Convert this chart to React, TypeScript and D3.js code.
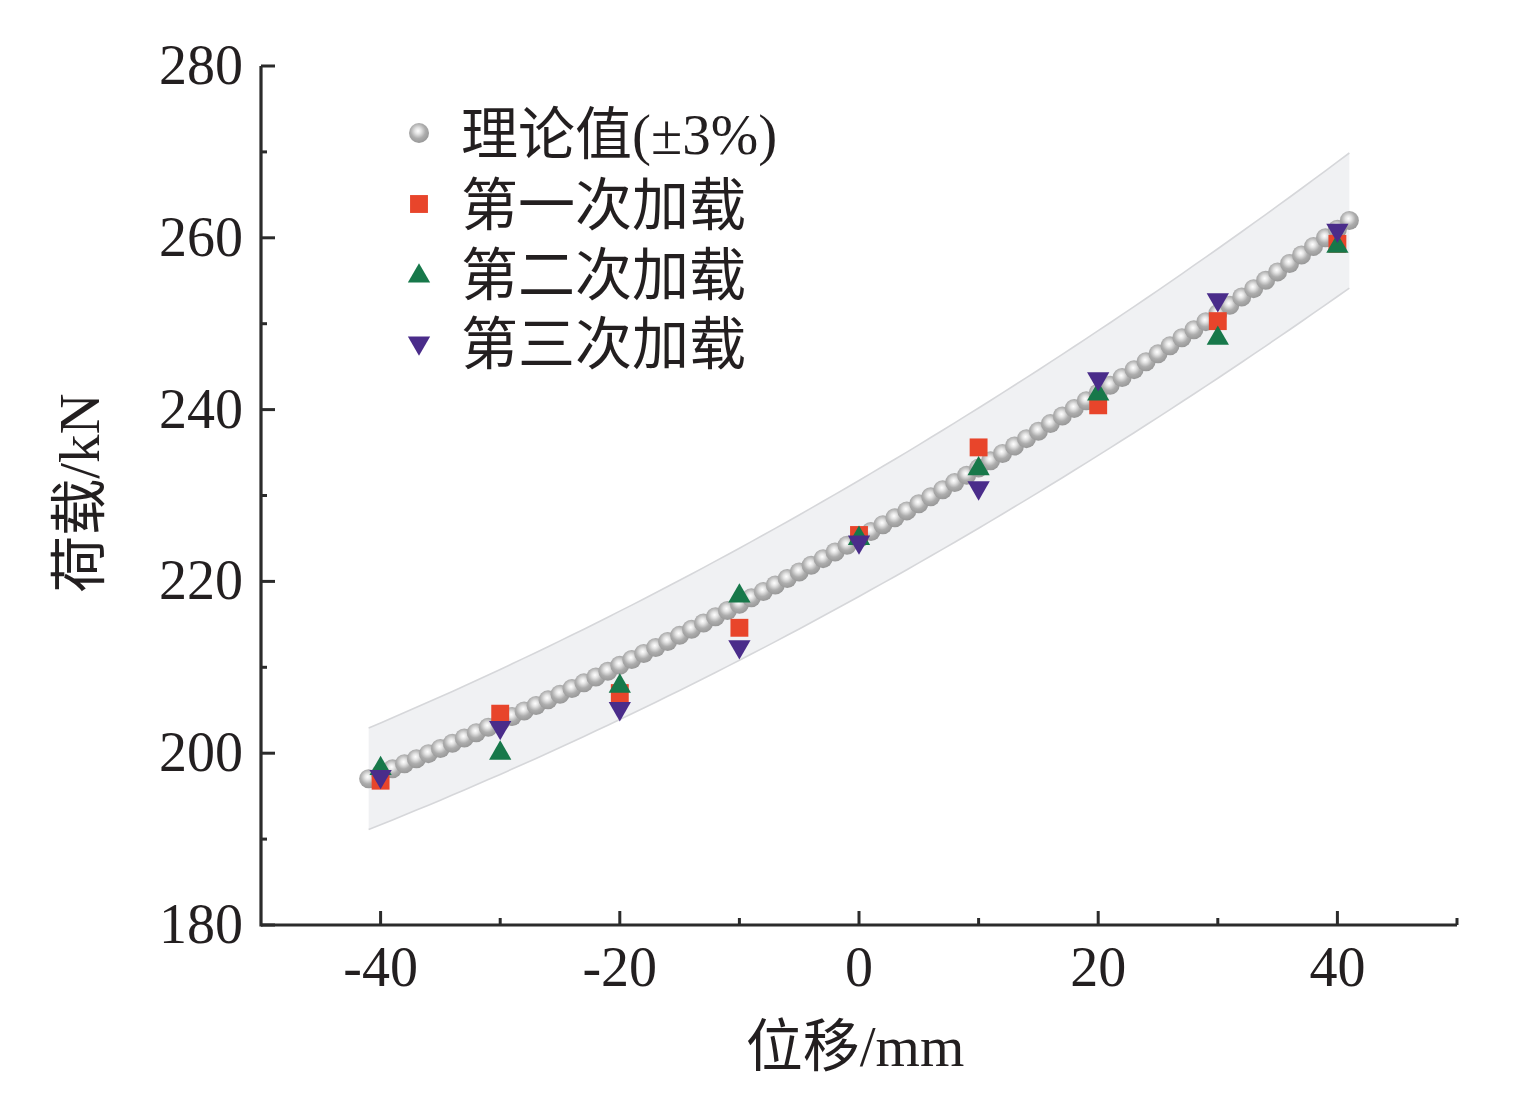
import React from "react";
import * as d3 from "d3";

// ---- data ----
const theoryX: number[] = [
  -41, -40, -39, -38, -37, -36, -35, -34, -33, -32, -31, -30, -29, -28, -27, -26, -25, -24, -23, -22, -21,
  -20, -19, -18, -17, -16, -15, -14, -13, -12, -11, -10, -9, -8, -7, -6, -5, -4, -3, -2, -1,
  0, 1, 2, 3, 4, 5, 6, 7, 8, 9, 10, 11, 12, 13, 14, 15, 16, 17, 18, 19, 20,
  21, 22, 23, 24, 25, 26, 27, 28, 29, 30, 31, 32, 33, 34, 35, 36, 37, 38, 39, 40, 41,
];
const theoryY: number[] = [
  197.03, 197.6, 198.18, 198.77, 199.36, 199.95, 200.55, 201.16, 201.77, 202.39, 203.02, 203.64, 204.28,
  204.92, 205.56, 206.21, 206.87, 207.53, 208.19, 208.87, 209.54, 210.23, 210.91, 211.61, 212.3, 213.01,
  213.72, 214.43, 215.15, 215.88, 216.61, 217.34, 218.09, 218.83, 219.58, 220.34, 221.1, 221.87, 222.65,
  223.43, 224.21, 225.0, 225.8, 226.6, 227.4, 228.21, 229.03, 229.85, 230.68, 231.51, 232.35, 233.19,
  234.04, 234.9, 235.76, 236.62, 237.49, 238.37, 239.25, 240.14, 241.03, 241.93, 242.83, 243.74, 244.65,
  245.57, 246.49, 247.42, 248.36, 249.3, 250.24, 251.19, 252.15, 253.11, 254.08, 255.05, 256.03, 257.01,
  258.0, 259.0, 260.0, 261.0, 262.01,
];
const BAND_PCT = 0.03;

const loadX: number[] = [-40, -30, -20, -10, 0, 10, 20, 30, 40];
const load1: number[] = [196.8, 204.6, 207.0, 214.6, 225.4, 235.6, 240.5, 250.3, 259.3];
const load2: number[] = [198.2, 200.0, 207.8, 218.3, 225.0, 233.1, 241.8, 248.3, 259.0];
const load3: number[] = [197.3, 203.0, 205.2, 212.4, 224.6, 230.9, 243.6, 252.8, 260.9];

const xMajor: number[] = [-40, -20, 0, 20, 40];
const xMinor: number[] = [-30, -10, 10, 30, 50];
const yMajor: number[] = [180, 200, 220, 240, 260, 280];
const yMinor: number[] = [190, 210, 230, 250, 270];

const legendLabels: string[] = ["理论值(±3%)", "第一次加载", "第二次加载", "第三次加载"];
const xTitle = "位移/mm";
const yTitle = "荷载/kN";

const RED = "#e8452b";
const GREEN = "#17784a";
const PURPLE = "#4a2c8a";
const TEXT = "#231f20";
const AXIS = "#2b2b2b";
const FONT = "'Liberation Serif', 'Times New Roman', 'Noto Sans CJK SC', serif";

export default function App() {
  const W = 1513;
  const H = 1110;
  const x = d3.scaleLinear().domain([-50, 50]).range([261, 1457]);
  const y = d3.scaleLinear().domain([180, 280]).range([925, 66]);

  const bandArea = d3
    .area<number>()
    .x((_, i) => x(theoryX[i]))
    .y0((v) => y(v * (1 - BAND_PCT)))
    .y1((v) => y(v * (1 + BAND_PCT)));
  const upperLine = d3
    .line<number>()
    .x((_, i) => x(theoryX[i]))
    .y((v) => y(v * (1 + BAND_PCT)));
  const lowerLine = d3
    .line<number>()
    .x((_, i) => x(theoryX[i]))
    .y((v) => y(v * (1 - BAND_PCT)));

  const sq = d3.symbol().type(d3.symbolSquare).size(320)() as string;
  const tri = d3.symbol().type(d3.symbolTriangle).size(215)() as string;

  const tickFs = 56;
  const legFs = 57;
  const titleFs = 57;

  const series = [
    { vals: load1, kind: "sq", color: RED },
    { vals: load2, kind: "up", color: GREEN },
    { vals: load3, kind: "down", color: PURPLE },
  ];

  const marker = (kind: string, color: string, cx: number, cy: number, key: string) => {
    if (kind === "sq") return <path key={key} d={sq} fill={color} transform={`translate(${cx},${cy})`} />;
    if (kind === "up") return <path key={key} d={tri} fill={color} transform={`translate(${cx},${cy})`} />;
    return <path key={key} d={tri} fill={color} transform={`translate(${cx},${cy}) rotate(180)`} />;
  };

  const legendY = [133, 204, 274, 343];

  return (
    <svg
      width={W}
      height={H}
      style={{ position: "absolute", left: 0, top: 0, display: "block", background: "#fff" }}
      fontFamily={FONT}
    >
      <defs>
        <radialGradient id="sph" cx="45%" cy="40%" r="62%">
          <stop offset="0" stopColor="#ffffff" />
          <stop offset="0.25" stopColor="#e4e4e4" />
          <stop offset="0.6" stopColor="#adadad" />
          <stop offset="1" stopColor="#969696" />
        </radialGradient>
      </defs>

      {/* band */}
      <path d={bandArea(theoryY) as string} fill="#f0f1f3" />
      <path d={upperLine(theoryY) as string} fill="none" stroke="#d6d7da" strokeWidth={1.6} />
      <path d={lowerLine(theoryY) as string} fill="none" stroke="#d6d7da" strokeWidth={1.6} />

      {/* theoretical spheres */}
      {theoryY.map((v, i) => (
        <circle key={"t" + i} cx={x(theoryX[i])} cy={y(v)} r={9.5} fill="url(#sph)" />
      ))}

      {/* measured */}
      {series.map((s, si) =>
        s.vals.map((v, i) => marker(s.kind, s.color, x(loadX[i]), y(v), `m${si}-${i}`))
      )}

      {/* axes */}
      <line x1={x(-50)} x2={x(50)} y1={y(180)} y2={y(180)} stroke={AXIS} strokeWidth={3.2} />
      <line x1={x(-50)} x2={x(-50)} y1={y(180) + 1.6} y2={y(280)} stroke={AXIS} strokeWidth={3.2} />
      {xMajor.map((t) => (
        <line key={"xM" + t} x1={x(t)} x2={x(t)} y1={y(180)} y2={y(180) - 14} stroke={AXIS} strokeWidth={3} />
      ))}
      {xMinor.map((t) => (
        <line key={"xm" + t} x1={x(t)} x2={x(t)} y1={y(180)} y2={y(180) - 7} stroke={AXIS} strokeWidth={3} />
      ))}
      {yMajor.map((t) => (
        <line key={"yM" + t} x1={x(-50)} x2={x(-50) + 14} y1={y(t)} y2={y(t)} stroke={AXIS} strokeWidth={3} />
      ))}
      {yMinor.map((t) => (
        <line key={"ym" + t} x1={x(-50)} x2={x(-50) + 6} y1={y(t)} y2={y(t)} stroke={AXIS} strokeWidth={3} />
      ))}

      {/* tick labels */}
      {xMajor.map((t) => (
        <text key={"xl" + t} x={x(t)} y={986} textAnchor="middle" fontSize={tickFs} fill={TEXT}>
          {String(t)}
        </text>
      ))}
      {yMajor.map((t) => (
        <text key={"yl" + t} x={243} y={y(t) + 18} textAnchor="end" fontSize={tickFs} fill={TEXT}>
          {String(t)}
        </text>
      ))}

      {/* axis titles */}
      <text x={855} y={1066} textAnchor="middle" fontSize={titleFs} fill={TEXT}>
        {xTitle}
      </text>
      <text
        transform={`translate(99,493) rotate(-90)`}
        textAnchor="middle"
        fontSize={titleFs}
        fill={TEXT}
      >
        {yTitle}
      </text>

      {/* legend */}
      <circle cx={419} cy={legendY[0]} r={10} fill="url(#sph)" />
      {marker("sq", RED, 419, legendY[1], "lg1")}
      {marker("up", GREEN, 419, legendY[2] + 2, "lg2")}
      {marker("down", PURPLE, 419, legendY[3], "lg3")}
      {legendLabels.map((l, i) => (
        <text key={"lg" + i} x={461} y={legendY[i] + 21} fontSize={legFs} fill={TEXT}>
          {l}
        </text>
      ))}
    </svg>
  );
}
